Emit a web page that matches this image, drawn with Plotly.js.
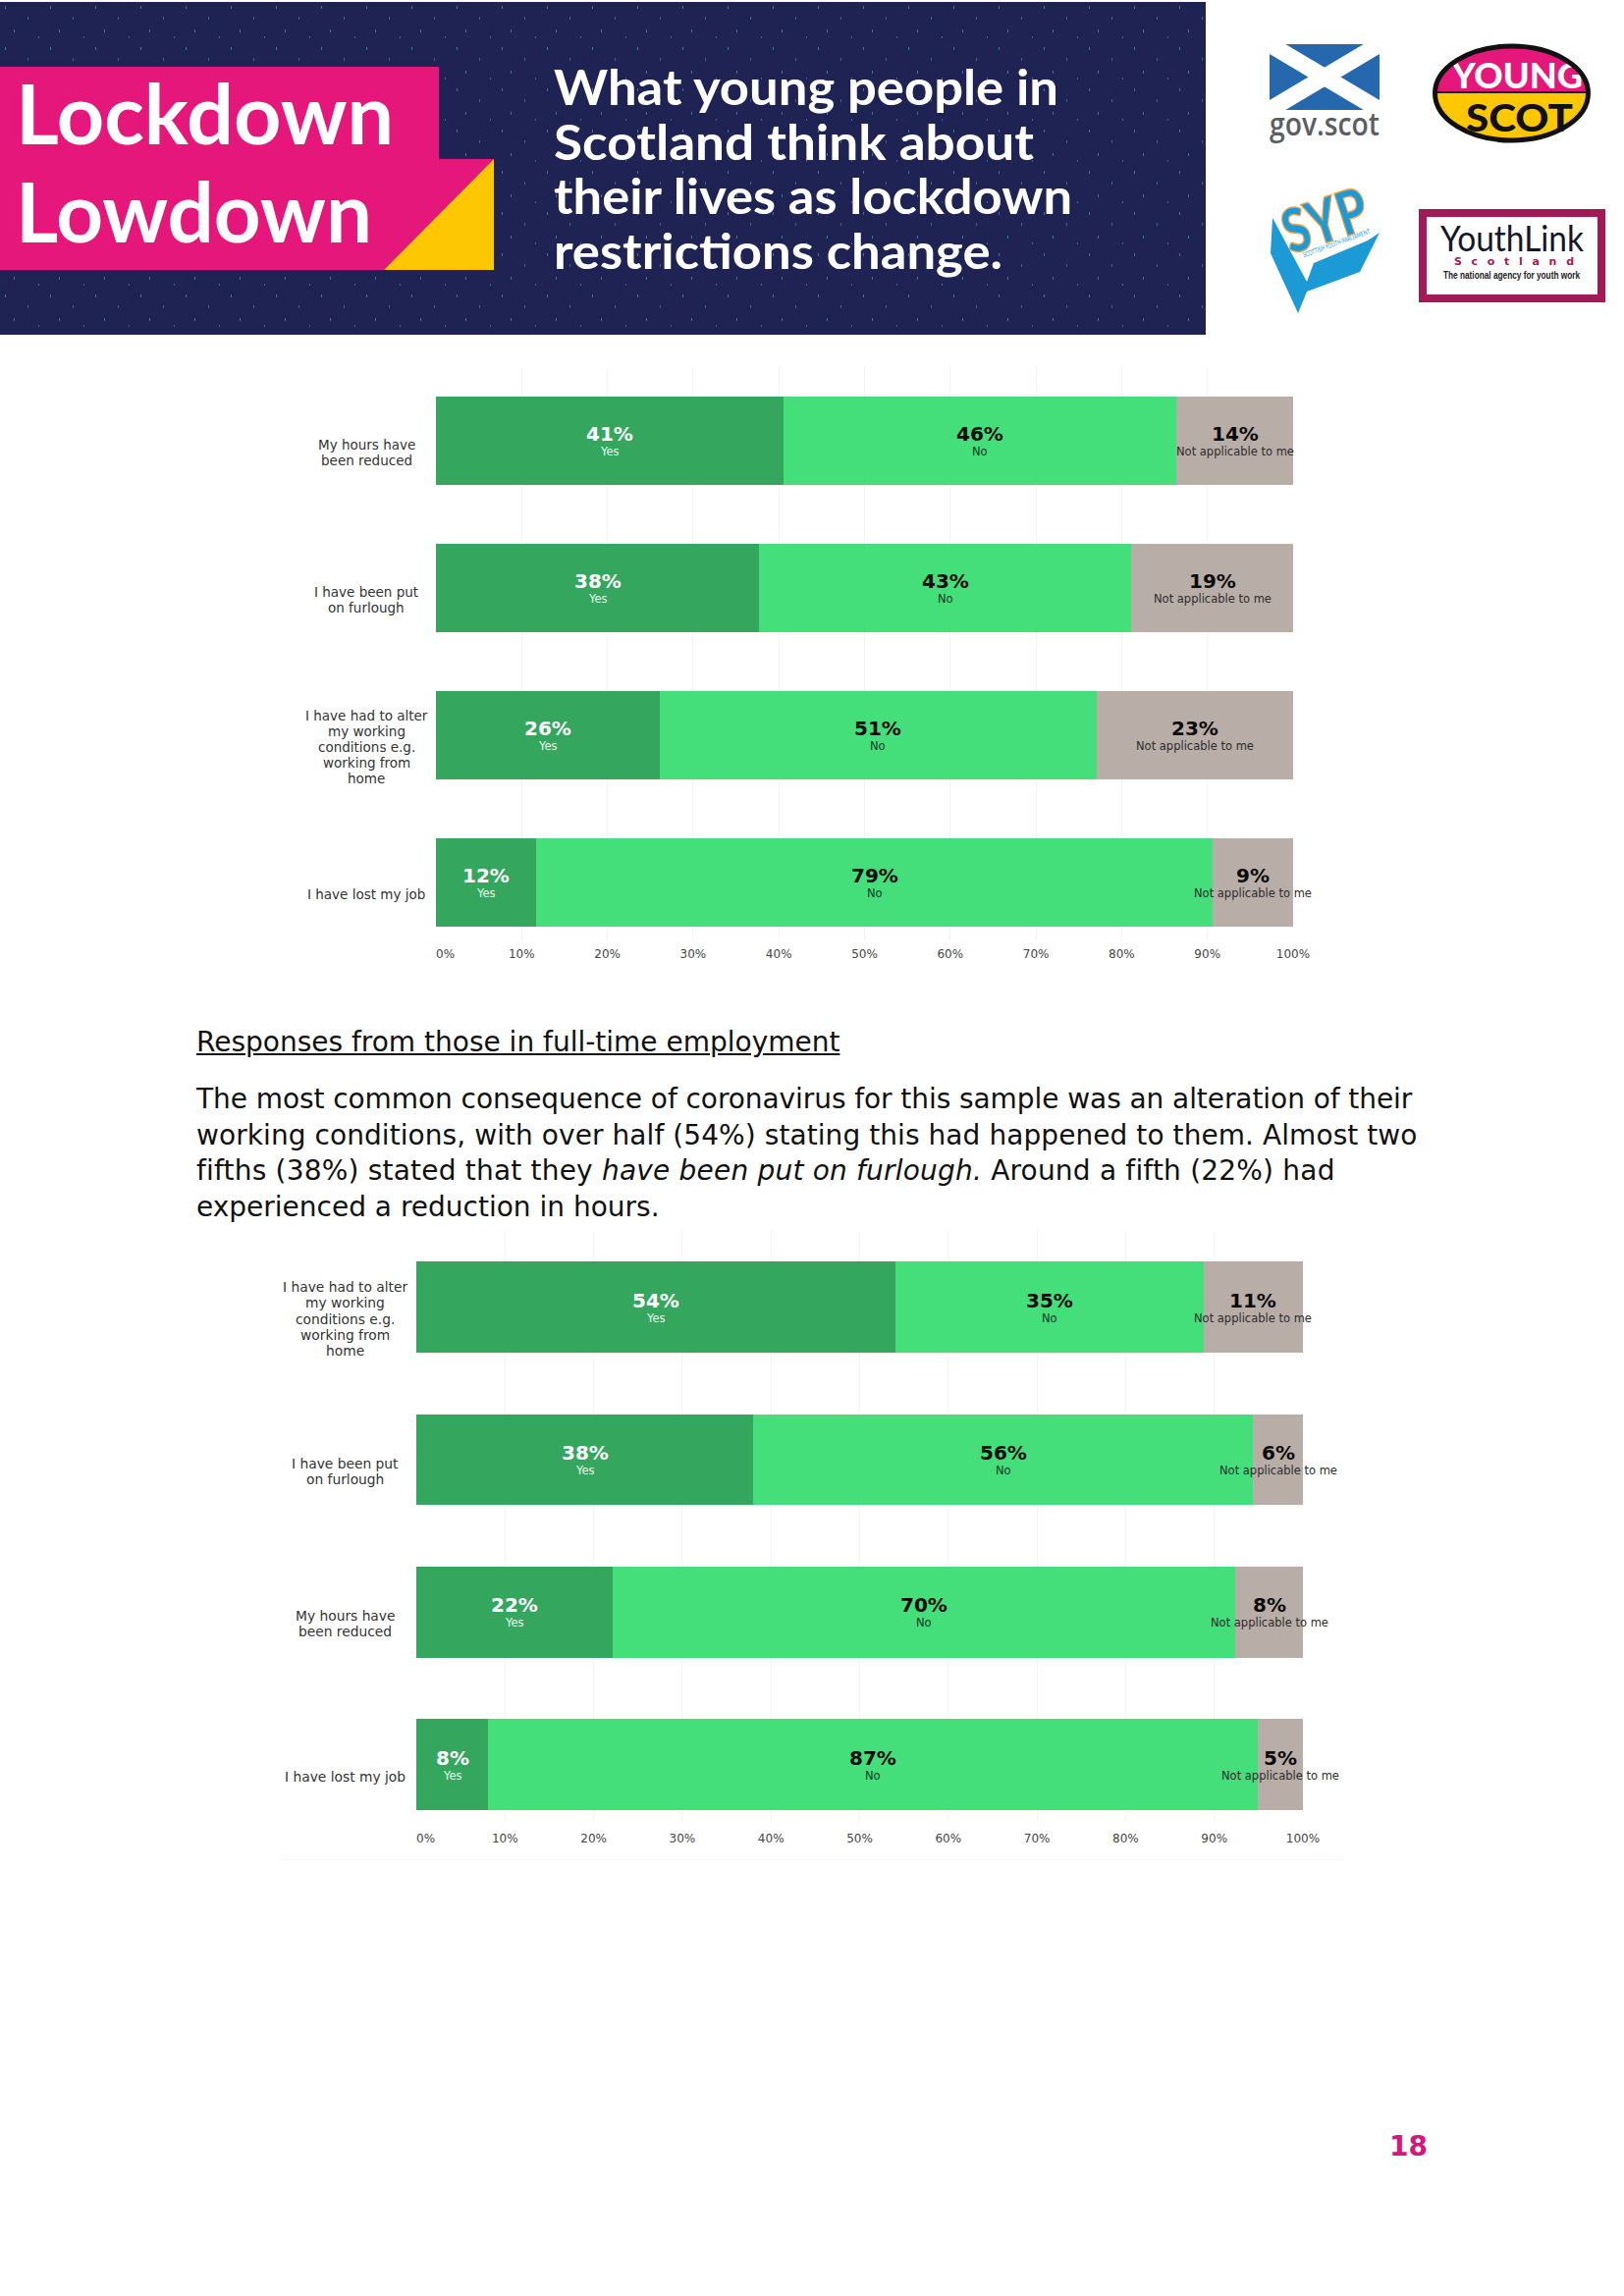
<!DOCTYPE html>
<html>
<head>
<meta charset="utf-8">
<title>Lockdown Lowdown</title>
<script src="https://cdn.plot.ly/plotly-3.0.1.min.js"></script>
<style>
html,body{margin:0;padding:0;background:#fff;}
#page{position:relative;width:1654px;height:2339px;overflow:hidden;background:#fff;font-family:"DejaVu Sans",sans-serif;color:#111;}
.chart{position:absolute;left:0;width:1654px;}
.line{position:absolute;left:200px;white-space:nowrap;font-size:28px;line-height:36px;}
#pageno{position:absolute;left:1415px;top:2170px;font:bold 28px "DejaVu Sans",sans-serif;color:#d4187c;}
#footline{position:absolute;left:285px;top:1894px;width:1085px;height:1px;background:#f5f5f5;}
</style>
</head>
<body>
<div id="page">
<svg width="1654" height="345" style="position:absolute;left:0;top:0">
  <defs>
    <pattern id="dots" width="46" height="42" patternUnits="userSpaceOnUse">
      <rect x="5" y="6" width="1" height="3" fill="#3e7893"/>
      <rect x="28" y="17" width="1" height="3" fill="#35658a"/>
      <rect x="14" y="30" width="1" height="3" fill="#3e7893"/>
      <rect x="39" y="37" width="1" height="2" fill="#35658a"/>
    </pattern>
    <clipPath id="ysTop"><rect x="1450" y="40" width="180" height="54"/></clipPath>
    <clipPath id="ysBot"><rect x="1450" y="94" width="180" height="56"/></clipPath>
  </defs>
  <rect x="0" y="2" width="1228" height="339" fill="#1e2353"/>
  <rect x="0" y="2" width="1228" height="339" fill="url(#dots)"/>
  <polygon points="0,68 447,68 447,162 503,162 391,275 0,275" fill="#e5177b"/>
  <polygon points="503,162 503,275 391,275" fill="#fdc803"/>
  <g font-family="Lato,sans-serif" font-weight="700" fill="#fff">
    <text x="16" y="147" font-size="84" textLength="385" lengthAdjust="spacingAndGlyphs">Lockdown</text>
    <text x="16" y="247" font-size="84" textLength="363" lengthAdjust="spacingAndGlyphs">Lowdown</text>
    <text x="564" y="107" font-size="50" textLength="514" lengthAdjust="spacingAndGlyphs">What young people in</text>
    <text x="564" y="163" font-size="50" textLength="489" lengthAdjust="spacingAndGlyphs">Scotland think about</text>
    <text x="564" y="218" font-size="50" textLength="528" lengthAdjust="spacingAndGlyphs">their lives as lockdown</text>
    <text x="564" y="274" font-size="50" textLength="457" lengthAdjust="spacingAndGlyphs">restrictions change.</text>
  </g>
  <!-- gov.scot -->
  <rect x="1293" y="45" width="112" height="67" fill="#2668ae"/>
  <line x1="1286" y1="41" x2="1412" y2="116" stroke="#fff" stroke-width="17"/>
  <line x1="1412" y1="41" x2="1286" y2="116" stroke="#fff" stroke-width="17"/>
  <text x="1293" y="138" font-family="'Open Sans',sans-serif" font-weight="600" font-size="32" fill="#5b5f63" textLength="112" lengthAdjust="spacingAndGlyphs">gov.scot</text>
  <!-- Young Scot -->
  <ellipse cx="1539.5" cy="95" rx="78" ry="48" fill="#e5177b" clip-path="url(#ysTop)"/>
  <ellipse cx="1539.5" cy="95" rx="78" ry="48" fill="#fdc803" clip-path="url(#ysBot)"/>
  <line x1="1462" y1="94" x2="1617" y2="94" stroke="#111" stroke-width="2"/>
  <text x="1479" y="90" font-family="Lato,sans-serif" font-weight="900" font-size="36" fill="#fff" textLength="133" lengthAdjust="spacingAndGlyphs">YOUNG</text>
  <text x="1493" y="134" font-family="Lato,sans-serif" font-weight="900" font-size="38" fill="#111" textLength="109" lengthAdjust="spacingAndGlyphs">SCOT</text>
  <ellipse cx="1539.5" cy="95" rx="78" ry="48" fill="none" stroke="#111" stroke-width="5"/>
  <!-- SYP -->
  <polygon points="1296,222 1294,258 1322,319 1331,297 1385,277 1405,237 1393,245 1338,268 1331,287" fill="#1b9ad6"/>
  <g transform="rotate(-18 1345 224)">
    <text x="1349" y="248" text-anchor="middle" font-family="Lato,sans-serif" font-weight="900" font-size="62" fill="#1b9ad6" stroke="#e8a24a" stroke-width="1.5" textLength="88" lengthAdjust="spacingAndGlyphs">SYP</text>
  </g>
  <text x="1362" y="250" text-anchor="middle" transform="rotate(-20 1362 250)" font-family="Lato,sans-serif" font-size="7" fill="#1b9ad6" textLength="72" lengthAdjust="spacingAndGlyphs">SCOTTISH YOUTH PARLIAMENT</text>
  <!-- YouthLink -->
  <rect x="1449" y="217" width="182" height="87" fill="#fff" stroke="#a01a55" stroke-width="8"/>
  <text x="1467" y="256" font-family="Lato,sans-serif" font-size="36" fill="#15152e" textLength="146" lengthAdjust="spacingAndGlyphs">YouthLink</text>
  <text x="1481" y="270" font-family="'DejaVu Sans',sans-serif" font-weight="700" font-size="11" fill="#a01a55" textLength="122">Scotland</text>
  <text x="1470" y="284" font-family="'Liberation Sans',sans-serif" font-weight="700" font-size="10.5" fill="#222" textLength="139" lengthAdjust="spacingAndGlyphs">The national agency for youth work</text>
</svg>

<div id="chart1" class="chart" style="top:350px;height:650px"></div>

<div class="line" style="top:1044px;text-decoration:underline" id="heading">Responses from those in full-time employment</div>
<div class="line" style="top:1102px;letter-spacing:-0.07px">The most common consequence of coronavirus for this sample was an alteration of their</div>
<div class="line" style="top:1139px;letter-spacing:0.07px">working conditions, with over half (54%) stating this had happened to them. Almost two</div>
<div class="line" style="top:1175px;letter-spacing:0.2px">fifths (38%) stated that they <i>have been put on furlough.</i> Around a fifth (22%) had</div>
<div class="line" style="top:1212px">experienced a reduction in hours.</div>

<div id="chart2" class="chart" style="top:1240px;height:680px"></div>
<div id="footline"></div>
<div id="pageno">18</div>
</div>

<script>
const seriesNames = ["Yes", "No", "Not applicable to me"];
const seriesColors = ["#34a65d", "#44de7a", "#b9ada8"];
const tickValues = [0, 10, 20, 30, 40, 50, 60, 70, 80, 90, 100];
const tickLabels = ["\u00A0\u00A0\u00A0\u00A0\u00A00%", "10%", "20%", "30%", "40%", "50%", "60%", "70%", "80%", "90%", "100%"];

const categoriesA = ["My hours have<br>been reduced", "I have been put<br>on furlough", "I have had to alter<br>my working<br>conditions e.g.<br>working from<br>home", "I have lost my job"];
const yesA = [40.5, 37.7, 26.1, 11.7];
const noA = [45.9, 43.4, 51.0, 78.9];
const naA = [13.6, 18.9, 22.9, 9.4];

const categoriesB = ["I have had to alter<br>my working<br>conditions e.g.<br>working from<br>home", "I have been put<br>on furlough", "My hours have<br>been reduced", "I have lost my job"];
const yesB = [54.0, 38.0, 22.1, 8.1];
const noB = [34.8, 56.4, 70.3, 86.8];
const naB = [11.2, 5.6, 7.6, 5.1];

const FONT = '"DejaVu Sans", sans-serif';
const pctColors = ["#ffffff", "#0b0b0b", "#0b0b0b"];
const subColors = ["#e8f7ec", "#123a22", "#2c2c2c"];

function drawChart(id, categories, series, box) {
  const traces = series.map((vals, s) => ({
    type: "bar", orientation: "h", name: seriesNames[s], x: vals, y: categories,
    marker: {color: seriesColors[s], line: {width: 0}}, hoverinfo: "skip"
  }));
  const annotations = [];
  categories.forEach((cat, i) => {
    const lines = cat.split("<br>");
    lines.forEach((ln, k) => {
      annotations.push({
        xref: "paper", yref: "y", x: box.labelX, y: cat, text: ln, showarrow: false,
        align: "center", xanchor: "center", yanchor: "middle",
        yshift: -12 + ((lines.length - 1) / 2 - k) * box.lineStep,
        font: {family: FONT, size: box.labelSize, color: "#333333"}
      });
    });
    let start = 0;
    series.forEach((vals, s) => {
      const mid = start + vals[i] / 2;
      start += vals[i];
      annotations.push({
        xref: "x", yref: "y", x: mid, y: cat, text: "<b>" + Math.round(vals[i]) + "%</b>", showarrow: false,
        xanchor: "center", yanchor: "middle", yshift: 7,
        font: {family: FONT, size: 20, color: pctColors[s]}
      });
      annotations.push({
        xref: "x", yref: "y", x: mid, y: cat, text: seriesNames[s], showarrow: false,
        xanchor: "center", yanchor: "middle", yshift: -11,
        font: {family: FONT, size: 11.5, color: subColors[s]}
      });
    });
  });
  const layout = {
    width: 1654, height: box.height, barmode: "stack", bargap: box.gap, showlegend: false,
    paper_bgcolor: "rgba(0,0,0,0)", plot_bgcolor: "rgba(0,0,0,0)",
    margin: {l: box.l, r: box.r, t: box.t, b: box.b, pad: 0},
    font: {family: FONT},
    hovermode: false,
    xaxis: {
      range: [0, 100], tickmode: "array", tickvals: tickValues, ticktext: tickLabels,
      showgrid: true, gridcolor: "#f4f4f4", gridwidth: 1, zeroline: false, showline: false,
      ticks: "", ticklabelstandoff: box.standoff, tickangle: 0, fixedrange: true, automargin: false,
      tickfont: {family: FONT, size: 12, color: "#444444"}
    },
    yaxis: {
      type: "category", categoryorder: "array", categoryarray: categories,
      range: box.yRange, showticklabels: false, showgrid: false, zeroline: false, showline: false,
      ticks: "", fixedrange: true, automargin: false
    },
    annotations: annotations
  };
  return Plotly.newPlot(id, traces, layout, {displayModeBar: false, staticPlot: true});
}

drawChart("chart1", categoriesA, [yesA, noA, naA], {
  height: 650, l: 444, r: 337, t: 24, b: 42, gap: 0.397, labelX: -0.0813, yRange: [3.393, -0.5],
  labelSize: 13.5, lineStep: 15.8, standoff: 5
});
drawChart("chart2", categoriesB, [yesB, noB, naB], {
  height: 680, l: 424, r: 327, t: 14, b: 63, gap: 0.404, labelX: -0.0805, yRange: [3.383, -0.5],
  labelSize: 13.8, lineStep: 16.4, standoff: 7
});
</script>
</body>
</html>
